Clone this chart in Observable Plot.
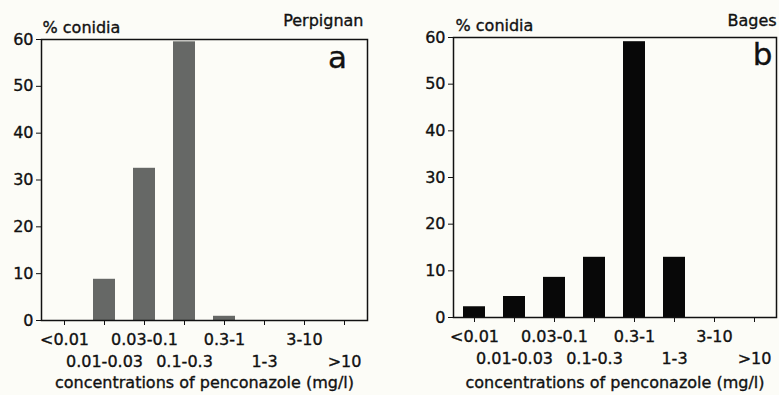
<!DOCTYPE html>
<html><head><meta charset="utf-8">
<script src="https://cdn.jsdelivr.net/npm/d3@7"></script>
<script src="https://cdn.jsdelivr.net/npm/@observablehq/plot@0.6"></script>
<style>
html,body{margin:0;padding:0;background:#fcfcf7;}
#wrap{position:relative;width:779px;height:395px;overflow:hidden;}
#pa,#pb{position:absolute;top:0;}
#pa{left:0;} #pb{left:390px;}
#wrap svg text{stroke:#111;stroke-width:0.35px;}
</style></head><body><div id="wrap"><div id="pa"></div><div id="pb"></div></div>
<script>
const categories = ["<0.01","0.01-0.03","0.03-0.1","0.1-0.3","0.3-1","1-3","3-10",">10"];
const perpignan = [0, 8.8, 32.5, 59.5, 0.9, 0, 0, 0];
const bages = [2.3, 4.5, 8.6, 12.9, 59.1, 12.9, 0, 0];
const yTicks = [0, 10, 20, 30, 40, 50, 60];
const yLabel = "% conidia";
const xLabel = "concentrations of penconazole (mg/l)";

const FONT = '"DejaVu Sans", "Liberation Sans", Arial, sans-serif';
const evenCats = new Set(categories.filter((d, i) => i % 2 === 0));
const oddCats = categories.filter((d, i) => i % 2 === 1);

function panel(o) {
  const data = categories.map((c, i) => ({cat: c, v: o.values[i]}));
  return Plot.plot({
    width: o.width, height: 395,
    marginLeft: o.ml, marginRight: o.mr, marginTop: o.mt, marginBottom: o.mb,
    style: {fontFamily: FONT, fontSize: "16px", color: "#111", background: "transparent", overflow: "visible"},
    x: {type: "band", domain: categories, paddingInner: 0.44, paddingOuter: 0.22, label: null},
    y: {domain: [0, 60], label: null},
    marks: [
      Plot.barY(data, {x: "cat", y: "v", fill: o.fill}),
      Plot.frame({stroke: "#111", strokeWidth: 1.5}),
      Plot.axisY(yTicks, {tickSize: 5, tickPadding: 3, fontSize: 16, label: null, stroke: "#111"}),
      Plot.axisX(categories, {tickSize: 5, tickPadding: 8, fontSize: 16, label: null, tickFormat: d => evenCats.has(d) ? d : ""}),
      Plot.axisX(oddCats, {tickSize: 0, tickPadding: 35, fontSize: 16, label: null}),
      Plot.text([yLabel], {frameAnchor: "top-left", text: d => d, textAnchor: "start", lineAnchor: "bottom", dx: o.ylDx, dy: -7, fontSize: 16, fill: "#111"}),
      Plot.text([o.site], {frameAnchor: "top-right", text: d => d, textAnchor: o.siteAnchor, lineAnchor: "bottom", dx: o.siteDx, dy: o.siteDy, fontSize: 16, fill: "#111"}),
      Plot.text([o.letter], {frameAnchor: "top-right", text: d => d, textAnchor: "middle", lineAnchor: "bottom", dx: o.letDx, dy: o.letDy, fontSize: 31, fill: "#111"}),
      Plot.text([xLabel], {frameAnchor: "bottom", text: d => d, textAnchor: "middle", lineAnchor: "bottom", dy: o.xlDy, fontSize: 16, fill: "#111"})
    ]
  });
}

document.getElementById("pa").appendChild(panel({
  values: perpignan, site: "Perpignan", letter: "a", fill: "#666866",
  width: 390, ml: 41, mr: 23, mt: 39, mb: 75,
  ylDx: 1, siteAnchor: "end", siteDx: -4, siteDy: -14, letDx: -30, letDy: 28, xlDy: 67
}));
document.getElementById("pb").appendChild(panel({
  values: bages, site: "Bages", letter: "b", fill: "#080808",
  width: 389, ml: 63, mr: 3, mt: 37, mb: 78,
  ylDx: 2, siteAnchor: "start", siteDx: -49, siteDy: -12, letDx: -14, letDy: 27, xlDy: 70
}));
</script></body></html>
